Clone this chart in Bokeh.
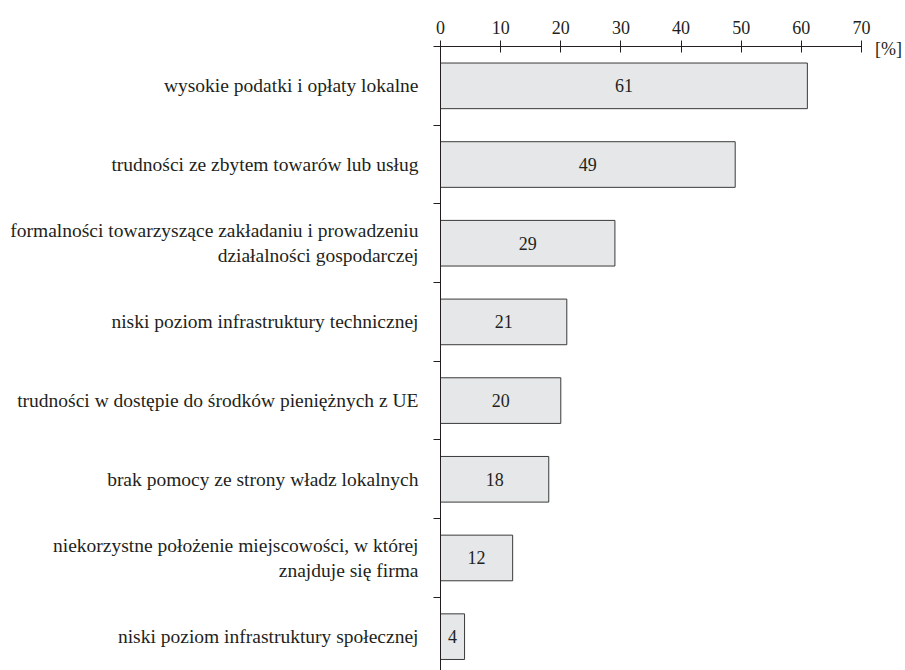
from bokeh.plotting import figure
from bokeh.models import ColumnDataSource, LabelSet, FixedTicker, Range1d, Span
from bokeh.core.properties import value
from bokeh.embed import file_html
from bokeh.resources import INLINE

categories = [
    "wysokie podatki i opłaty lokalne",
    "trudności ze zbytem towarów lub usług",
    "formalności towarzyszące zakładaniu i prowadzeniu\ndziałalności gospodarczej",
    "niski poziom infrastruktury technicznej",
    "trudności w dostępie do środków pieniężnych z UE",
    "brak pomocy ze strony władz lokalnych",
    "niekorzystne położenie miejscowości, w której\nznajduje się firma",
    "niski poziom infrastruktury społecznej",
]
values = [61, 49, 29, 21, 20, 18, 12, 4]
x_ticks = [0, 10, 20, 30, 40, 50, 60, 70]
unit_label = "[%]"

FONT = "Liberation Serif"
INK = "#231f20"
FS = "18px"

pos = list(range(len(categories)))
src = ColumnDataSource(dict(
    y=pos,
    val=values,
    mid=[v / 2 for v in values],
    lab=[str(v) for v in values],
))

X0, X1 = -1.164, 74.49
p = figure(
    width=905, height=670,
    x_range=Range1d(X0, X1), y_range=Range1d(7.43, -0.5),
    x_axis_location="above",
    output_backend="svg", toolbar_location=None,
    min_border_left=433, min_border_right=17, min_border_top=46, min_border_bottom=0,
)
p.outline_line_color = None
p.grid.visible = False
p.background_fill_color = "white"
p.border_fill_color = "white"

p.hbar(y="y", left=0, right="val", height=0.58, source=src,
       fill_color="#e6e7e8", line_color="#3a3a3a", line_width=1)

p.add_layout(Span(location=0, dimension="height", line_color=INK, line_width=1))

xa = p.xaxis[0]
xa.ticker = FixedTicker(ticks=x_ticks)
xa.bounds = (X0, max(x_ticks))
xa.major_tick_in = 6
xa.major_tick_out = 6
xa.minor_tick_line_color = None
xa.axis_line_color = INK
xa.major_tick_line_color = INK
xa.major_label_text_font = FONT
xa.major_label_text_font_size = FS
xa.major_label_text_color = INK
xa.major_label_standoff = 7
xa.axis_label = unit_label
xa.axis_label_align = "end"
xa.axis_label_standoff = -41
xa.axis_label_text_font = FONT
xa.axis_label_text_font_size = FS
xa.axis_label_text_font_style = "normal"
xa.axis_label_text_color = INK

ya = p.yaxis[0]
ya.ticker = FixedTicker(ticks=pos, minor_ticks=[i + 0.5 for i in pos[:-1]])
ya.major_label_overrides = {i: c for i, c in zip(pos, categories)}
ya.major_label_text_font = FONT
ya.major_label_text_font_size = "19.5px"
ya.major_label_text_color = INK
ya.major_label_standoff = 9
ya.major_tick_line_color = None
ya.minor_tick_in = 7
ya.minor_tick_out = 0
ya.minor_tick_line_color = INK
ya.axis_line_color = None

val_labels = LabelSet(x="mid", y="y", text="lab", source=src,
                      text_align="center", text_baseline="middle",
                      text_font=value(FONT), text_font_size=FS,
                      text_color=INK)
p.add_layout(val_labels)

open("out.html", "w").write(file_html(p, INLINE))
